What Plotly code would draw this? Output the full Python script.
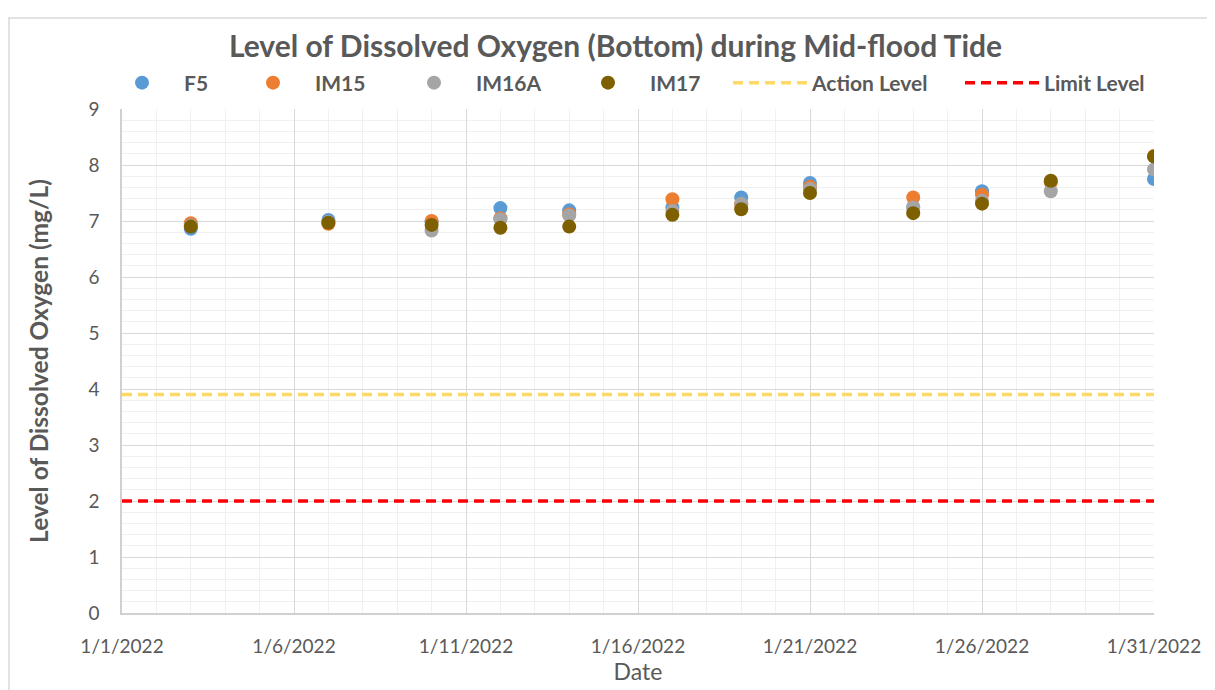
import plotly.graph_objects as go

# sampling dates and DO readings (mg/L), bottom, mid-flood tide
dates = ["2022-01-03", "2022-01-07", "2022-01-10", "2022-01-12", "2022-01-14", "2022-01-17",
         "2022-01-19", "2022-01-21", "2022-01-24", "2022-01-26", "2022-01-28", "2022-01-31"]
f5 = [6.86, 7.02, 6.98, 7.23, 7.19, 7.24, 7.42, 7.68, 7.25, 7.53, 7.70, 7.75]
im15 = [6.96, 6.95, 7.00, 7.05, 7.12, 7.39, 7.30, 7.61, 7.42, 7.47, 7.69, 8.16]
im16a = [6.92, 6.98, 6.83, 7.03, 7.10, 7.18, 7.31, 7.57, 7.24, 7.36, 7.53, 7.92]
im17 = [6.90, 6.97, 6.93, 6.88, 6.90, 7.11, 7.21, 7.50, 7.14, 7.31, 7.72, 8.15]

line_dates = ["2022-01-01", "2022-01-31"]
action_level = [3.9, 3.9]
limit_level = [2.0, 2.0]

font_family = "Lato, 'Liberation Sans', sans-serif"
grey_text = "#595959"

# plot area in px (the page adds an 8px body margin)
W, H = 1215, 690
L, T, R, B = 114, 101, 69, 85
pw, ph = W - L - R, H - T - B

fig = go.Figure()

# station points, each gets its own legend box so the spacing matches Excel's
stations = [("F5", f5, "#5B9BD5"), ("IM15", im15, "#ED7D31"),
            ("IM16A", im16a, "#A5A5A5"), ("IM17", im17, "#7F6000")]
legend_starts = [100, 231, 392, 566, 728, 960]  # px in the page
legend_names = ["legend", "legend2", "legend3", "legend4", "legend5", "legend6"]

for i, (name, vals, col) in enumerate(stations):
    fig.add_trace(go.Scatter(x=dates, y=vals, name=name, mode="markers",
                             marker=dict(size=14, color=col), legend=legend_names[i]))

# threshold lines
fig.add_trace(go.Scatter(x=line_dates, y=action_level, name="Action Level", mode="lines",
                         line=dict(color="#FFD966", width=3.5, dash="10px,6px"),
                         legend=legend_names[4]))
fig.add_trace(go.Scatter(x=line_dates, y=limit_level, name="Limit Level", mode="lines",
                         line=dict(color="#FF0000", width=3.5, dash="10px,6px"),
                         legend=legend_names[5]))

legend_cfg = {}
for name, px0 in zip(legend_names, legend_starts):
    legend_cfg[name] = dict(orientation="h", x=(px0 - 8 - L) / pw, xanchor="left",
                            y=1 + 26 / ph, yanchor="middle", itemwidth=74,
                            font=dict(size=21, color=grey_text, weight="bold"),
                            bgcolor="rgba(0,0,0,0)", borderwidth=0)

fig.update_layout(
    width=W, height=H,
    margin=dict(l=L, r=R, t=T, b=B, autoexpand=False),
    paper_bgcolor="white", plot_bgcolor="white",
    font=dict(family=font_family, color=grey_text, size=19),
    title=dict(text="<b>Level of Dissolved Oxygen (Bottom) during Mid-flood Tide</b>",
               x=0.5, xanchor="center", y=1 - 38 / H, yanchor="middle",
               font=dict(size=30, color=grey_text)),
    showlegend=True,
    **legend_cfg,
)

fig.update_xaxes(
    type="date", range=["2022-01-01", "2022-01-31"],
    tick0="2022-01-01", dtick=5 * 86400000, tickformat="%-m/%-d/%Y",
    showgrid=True, gridcolor="#D9D9D9", gridwidth=1,
    minor=dict(dtick=86400000, showgrid=True, gridcolor="#F0F0F0", gridwidth=1),
    showline=True, linecolor="#D0D0D0", linewidth=1.5,
    ticks="", ticklabelstandoff=15,
    tickfont=dict(size=19, color=grey_text),
    title=dict(text="Date", font=dict(size=23, color=grey_text), standoff=6),
    zeroline=False,
)
fig.update_yaxes(
    range=[0, 9], dtick=1,
    showgrid=True, gridcolor="#D9D9D9", gridwidth=1,
    minor=dict(dtick=0.2, showgrid=True, gridcolor="#F0F0F0", gridwidth=1),
    showline=True, linecolor="#D0D0D0", linewidth=1.5, zeroline=False,
    tickfont=dict(size=19, color=grey_text),
    ticklabelstandoff=17,
    title=dict(text="<b>Level of Dissolved Oxygen (mg/L)</b>", font=dict(size=24.5, color=grey_text),
               standoff=33),
)

# chart frame
fig.add_shape(type="rect", xref="paper", yref="paper",
              x0=-(L - 1) / pw, x1=1 + 59 / pw, y0=-(B + 10) / ph, y1=1 + (T - 10) / ph,
              line=dict(color="#D9D9D9", width=1.5), fillcolor="rgba(0,0,0,0)")

fig.write_html("out.html")
